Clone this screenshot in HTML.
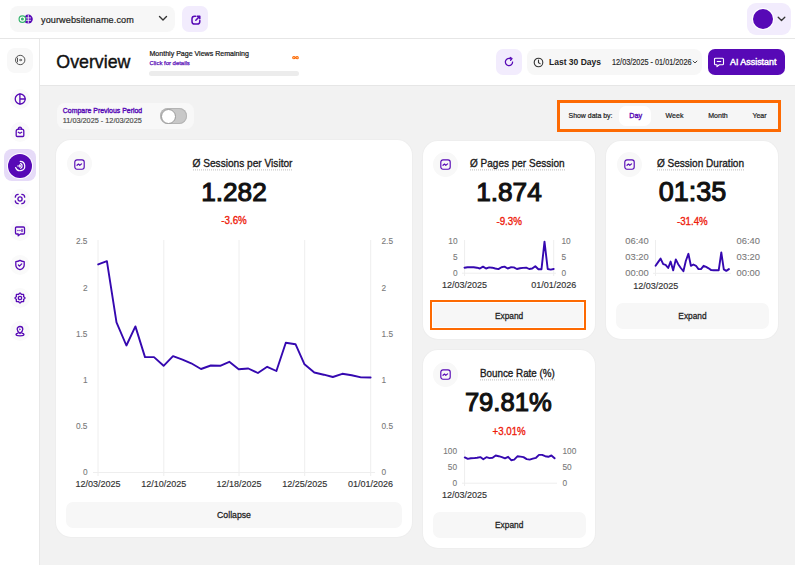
<!DOCTYPE html>
<html><head><meta charset="utf-8"><style>
html,body{margin:0;padding:0;width:795px;height:565px;overflow:hidden;background:#f2f2f2;font-family:"Liberation Sans", sans-serif;}
.t{position:absolute;line-height:20px;white-space:nowrap;font-family:"Liberation Sans", sans-serif;}
.b{position:absolute;}
svg.b{overflow:visible;}
</style></head><body>
<div class="b" style="left:0px;top:0px;width:795px;height:38px;background:#fff;border-radius:0px;"></div>
<div class="b" style="left:0px;top:38px;width:795px;height:1px;background:#e6e6e6;border-radius:0px;"></div>
<div class="b" style="left:10px;top:6px;width:165px;height:26px;background:#f7f7f7;border-radius:8px;"></div>
<svg class="b" style="left:17px;top:13px" width="18" height="12" viewBox="0 0 18 12"><circle cx="11.3" cy="6.1" r="4.5" fill="#5709b6"/><path d="M11.3 1.8v8.6M8.6 4.9h5.4M8.6 7.3h5.4" stroke="#fff" stroke-width="0.8" fill="none"/><circle cx="5.4" cy="6.1" r="3.3" fill="#fff" stroke="#35b46e" stroke-width="1.2"/><circle cx="5.4" cy="6.1" r="1.5" fill="#35b46e"/></svg>
<div class="t" style="left:41.00px;top:10.16px;width:400px;text-align:left;font-size:9.1px;font-weight:400;color:#1e1e1e;-webkit-text-stroke:0.2px #1e1e1e;letter-spacing:0.1px;transform:scaleY(1.06);transform-origin:50% 9.84px;">yourwebsitename.com</div>
<svg class="b" style="left:158px;top:15px" width="10" height="7" viewBox="0 0 10 7"><path d="M1.5 1.5 5 5 8.5 1.5" stroke="#333" stroke-width="1.4" fill="none" stroke-linecap="round" stroke-linejoin="round"/></svg>
<div class="b" style="left:182px;top:6px;width:26px;height:26px;background:#f2ecfd;border-radius:7px;"></div>
<svg class="b" style="left:190.5px;top:14.5px" width="10" height="10" viewBox="0 0 10 10"><path d="M4.6 1.2H3.6A2.6 2.6 0 0 0 1 3.8v2.6A2.6 2.6 0 0 0 3.6 9h2.6A2.6 2.6 0 0 0 8.8 6.4V5.6" stroke="#5709b6" stroke-width="1.5" fill="none" stroke-linecap="round" stroke-linejoin="round"/><path d="M4.8 5.2 8.6 1.4M6.2 1.2h2.6v2.6" stroke="#5709b6" stroke-width="1.5" fill="none" stroke-linecap="round" stroke-linejoin="round"/></svg>
<div class="b" style="left:747px;top:3px;width:44px;height:32px;background:#f2ecfd;border-radius:9px;"></div>
<div class="b" style="left:753px;top:9px;width:20px;height:20px;border-radius:50%;background:#5709b6;box-shadow:0 0 0 1px #fff"></div>
<svg class="b" style="left:777px;top:16px" width="9" height="6" viewBox="0 0 9 6"><path d="M1.2 1.2 4.5 4.5 7.8 1.2" stroke="#333" stroke-width="1.3" fill="none" stroke-linecap="round" stroke-linejoin="round"/></svg>
<div class="b" style="left:0px;top:39px;width:39px;height:526px;background:#fff;border-radius:0px;"></div>
<div class="b" style="left:39px;top:39px;width:1px;height:526px;background:#e8e8e8;border-radius:0px;"></div>
<div class="b" style="left:7px;top:48px;width:26px;height:25px;background:#f8f8f8;border-radius:8px;"></div>
<svg class="b" style="left:14px;top:54.4px" width="12" height="12" viewBox="0 0 12 12"><circle cx="6.2" cy="6" r="4.7" stroke="#555" stroke-width="1" fill="none"/><path d="M3.5 3.7v4.6" stroke="#555" stroke-width="1" fill="none"/><path d="M5 6h2.2" stroke="#555" stroke-width="1"/><path d="M6.6 4.4 8.4 6 6.6 7.6z" fill="#555"/></svg>
<div class="b" style="left:9.5px;top:89px;width:20px;height:20px;border-radius:50%;background:#fafafa"></div>
<div class="b" style="left:9.5px;top:122px;width:20px;height:20px;border-radius:50%;background:#fafafa"></div>
<div class="b" style="left:9.5px;top:189px;width:20px;height:20px;border-radius:50%;background:#fafafa"></div>
<div class="b" style="left:9.5px;top:221px;width:20px;height:20px;border-radius:50%;background:#fafafa"></div>
<div class="b" style="left:9.5px;top:254.5px;width:20px;height:20px;border-radius:50%;background:#fafafa"></div>
<div class="b" style="left:9.5px;top:288px;width:20px;height:20px;border-radius:50%;background:#fafafa"></div>
<div class="b" style="left:9.5px;top:321px;width:20px;height:20px;border-radius:50%;background:#fafafa"></div>
<div class="b" style="left:4px;top:149px;width:32px;height:32px;background:#e6dbf8;border-radius:8px;"></div>
<div class="b" style="left:7.5px;top:153.5px;width:24px;height:24px;border-radius:50%;background:#5709b6;box-shadow:0 0 0 1px #fff"></div>
<svg class="b" style="left:13.5px;top:93px" width="12" height="12" viewBox="0 0 12 12"><circle cx="6.2" cy="6" r="5" stroke="#5709b6" stroke-width="1.3" fill="none" stroke-linecap="round" stroke-linejoin="round"/><path d="M5.9 1V11M5.9 6h5.2" stroke="#5709b6" stroke-width="1.3" fill="none" stroke-linecap="round" stroke-linejoin="round"/></svg>
<svg class="b" style="left:13.5px;top:126px" width="12" height="12" viewBox="0 0 12 12"><path d="M2.2 5.2a2 2 0 0 1 2-2h3.6a2 2 0 0 1 2 2v4.3a1 1 0 0 1-1 1H3.2a1 1 0 0 1-1-1z" stroke="#5709b6" stroke-width="1.3" fill="none" stroke-linecap="round" stroke-linejoin="round"/><path d="M4.5 3.2V2.6a1.5 1.5 0 0 1 3 0v.6M4.3 6.3 6 7.3 7.7 6.3" stroke="#5709b6" stroke-width="1.3" fill="none" stroke-linecap="round" stroke-linejoin="round"/></svg>
<svg class="b" style="left:12.5px;top:158.5px" width="14" height="14" viewBox="0 0 14 14"><path d="M7.2 2.3a4.7 4.7 0 1 1-4.6 6.2" stroke="#fff" stroke-width="1.2" fill="none" stroke-linecap="round"/><path d="M7.6 4.6a2.5 2.5 0 0 1 0 4.6" stroke="#fff" stroke-width="1.2" fill="none" stroke-linecap="round"/><path d="M6.4 6 7.4 7 6.4 8" stroke="#fff" stroke-width="1.1" fill="none" stroke-linecap="round" stroke-linejoin="round"/><path d="M4.6 7h2.4" stroke="#fff" stroke-width="1" fill="none" stroke-linecap="round"/></svg>
<svg class="b" style="left:13.5px;top:193px" width="12" height="12" viewBox="0 0 12 12"><path d="M1.3 4.2A3 3 0 0 1 4.2 1.3M7.8 1.3a3 3 0 0 1 2.9 2.9M10.7 7.8a3 3 0 0 1-2.9 2.9M4.2 10.7a3 3 0 0 1-2.9-2.9" stroke="#5709b6" stroke-width="1.3" fill="none" stroke-linecap="round" stroke-linejoin="round"/><circle cx="6" cy="6" r="2.1" stroke="#5709b6" stroke-width="1.3" fill="none" stroke-linecap="round" stroke-linejoin="round"/></svg>
<svg class="b" style="left:13.5px;top:225px" width="12" height="12" viewBox="0 0 12 12"><path d="M2.5 2h7a1 1 0 0 1 1 1v5a1 1 0 0 1-1 1H6.5L4.2 10.8V9H2.5a1 1 0 0 1-1-1V3a1 1 0 0 1 1-1z" stroke="#5709b6" stroke-width="1.3" fill="none" stroke-linecap="round" stroke-linejoin="round"/><path d="M3.9 5.5h0.1M5.9 5.5h0.1M8 4.5v2" stroke="#5709b6" stroke-width="1.3" fill="none" stroke-linecap="round" stroke-linejoin="round"/></svg>
<svg class="b" style="left:13.5px;top:258.5px" width="12" height="12" viewBox="0 0 12 12"><path d="M6 1.4C7.4 2.3 8.8 2.6 10.2 2.6V5.9C10.2 8.2 8.3 9.9 6 10.7 3.7 9.9 1.8 8.2 1.8 5.9V2.6C3.2 2.6 4.6 2.3 6 1.4z" stroke="#5709b6" stroke-width="1.3" fill="none" stroke-linecap="round" stroke-linejoin="round"/><path d="M4.4 6 5.5 7.1 7.7 4.9" stroke="#5709b6" stroke-width="1.3" fill="none" stroke-linecap="round" stroke-linejoin="round"/></svg>
<svg class="b" style="left:13.5px;top:292px" width="12" height="12" viewBox="0 0 12 12"><path d="M10.95 6.00 L10.92 6.19 L10.83 6.38 L10.69 6.56 L10.51 6.71 L10.32 6.86 L10.11 6.99 L9.92 7.11 L9.76 7.22 L9.64 7.34 L9.56 7.47 L9.52 7.62 L9.52 7.80 L9.56 7.99 L9.61 8.21 L9.66 8.44 L9.70 8.69 L9.71 8.92 L9.68 9.15 L9.62 9.34 L9.50 9.50 L9.34 9.62 L9.15 9.68 L8.92 9.71 L8.69 9.70 L8.44 9.66 L8.21 9.61 L7.99 9.56 L7.80 9.52 L7.62 9.52 L7.47 9.56 L7.34 9.64 L7.22 9.76 L7.11 9.92 L6.99 10.11 L6.86 10.32 L6.71 10.51 L6.56 10.69 L6.38 10.83 L6.19 10.92 L6.00 10.95 L5.81 10.92 L5.62 10.83 L5.44 10.69 L5.29 10.51 L5.14 10.32 L5.01 10.11 L4.89 9.92 L4.78 9.76 L4.66 9.64 L4.53 9.56 L4.38 9.52 L4.20 9.52 L4.01 9.56 L3.79 9.61 L3.56 9.66 L3.31 9.70 L3.08 9.71 L2.85 9.68 L2.66 9.62 L2.50 9.50 L2.38 9.34 L2.32 9.15 L2.29 8.92 L2.30 8.69 L2.34 8.44 L2.39 8.21 L2.44 7.99 L2.48 7.80 L2.48 7.62 L2.44 7.47 L2.36 7.34 L2.24 7.22 L2.08 7.11 L1.89 6.99 L1.68 6.86 L1.49 6.71 L1.31 6.56 L1.17 6.38 L1.08 6.19 L1.05 6.00 L1.08 5.81 L1.17 5.62 L1.31 5.44 L1.49 5.29 L1.68 5.14 L1.89 5.01 L2.08 4.89 L2.24 4.78 L2.36 4.66 L2.44 4.53 L2.48 4.38 L2.48 4.20 L2.44 4.01 L2.39 3.79 L2.34 3.56 L2.30 3.31 L2.29 3.08 L2.32 2.85 L2.38 2.66 L2.50 2.50 L2.66 2.38 L2.85 2.32 L3.08 2.29 L3.31 2.30 L3.56 2.34 L3.79 2.39 L4.01 2.44 L4.20 2.48 L4.38 2.48 L4.53 2.44 L4.66 2.36 L4.78 2.24 L4.89 2.08 L5.01 1.89 L5.14 1.68 L5.29 1.49 L5.44 1.31 L5.62 1.17 L5.81 1.08 L6.00 1.05 L6.19 1.08 L6.38 1.17 L6.56 1.31 L6.71 1.49 L6.86 1.68 L6.99 1.89 L7.11 2.08 L7.22 2.24 L7.34 2.36 L7.47 2.44 L7.62 2.48 L7.80 2.48 L7.99 2.44 L8.21 2.39 L8.44 2.34 L8.69 2.30 L8.92 2.29 L9.15 2.32 L9.34 2.38 L9.50 2.50 L9.62 2.66 L9.68 2.85 L9.71 3.08 L9.70 3.31 L9.66 3.56 L9.61 3.79 L9.56 4.01 L9.52 4.20 L9.52 4.38 L9.56 4.53 L9.64 4.66 L9.76 4.78 L9.92 4.89 L10.11 5.01 L10.32 5.14 L10.51 5.29 L10.69 5.44 L10.83 5.62 L10.92 5.81 L10.95 6.00z" stroke="#5709b6" stroke-width="1.3" fill="none" stroke-linecap="round" stroke-linejoin="round"/><circle cx="6" cy="6" r="1.7" stroke="#5709b6" stroke-width="1.3" fill="none" stroke-linecap="round" stroke-linejoin="round"/></svg>
<svg class="b" style="left:13.5px;top:325px" width="12" height="12" viewBox="0 0 12 12"><path d="M6 8.6C4.4 7.3 3.2 5.9 3.2 4.3A2.8 2.8 0 0 1 8.8 4.3C8.8 5.9 7.6 7.3 6 8.6z" stroke="#5709b6" stroke-width="1.3" fill="none" stroke-linecap="round" stroke-linejoin="round"/><path d="M5.3 3.2 7 4.3 5.3 5.4z" fill="#5709b6" stroke="none"/><path d="M4 8.2C2.8 8.5 2 9 2 9.6c0 .7 1.8 1.2 4 1.2s4-.5 4-1.2c0-.6-.8-1.1-2-1.4" stroke="#5709b6" stroke-width="1.3" fill="none" stroke-linecap="round" stroke-linejoin="round"/></svg>
<div class="b" style="left:40px;top:39px;width:755px;height:46px;background:#fff;border-radius:0px;"></div>
<div class="b" style="left:40px;top:85px;width:755px;height:1px;background:#e6e6e6;border-radius:0px;"></div>
<div class="t" style="left:56.30px;top:51.92px;width:400px;text-align:left;font-size:17.8px;font-weight:400;color:#111;-webkit-text-stroke:0.4px #111;">Overview</div>
<div class="t" style="left:149.50px;top:43.63px;width:400px;text-align:left;font-size:7.05px;font-weight:400;color:#1a1a1a;-webkit-text-stroke:0.22px #1a1a1a;transform:scaleY(1.08);transform-origin:50% 9.87px;">Monthly Page Views Remaining</div>
<div class="t" style="left:149.50px;top:52.61px;width:400px;text-align:left;font-size:5.95px;font-weight:400;color:#5709b6;-webkit-text-stroke:0.25px #5709b6;">Click for details</div>
<div class="b" style="left:149px;top:71px;width:150px;height:5px;background:#ececec;border-radius:3px;"></div>
<svg class="b" style="left:292px;top:56.3px" width="7" height="3.4" viewBox="0 0 7 3.4"><path d="M3.5 1.7C2.8.8 2.3.6 1.8.6a1.1 1.1 0 0 0 0 2.2c.5 0 1-.2 1.7-1.1.7-.9 1.2-1.1 1.7-1.1a1.1 1.1 0 0 1 0 2.2c-.5 0-1-.2-1.7-1.1z" stroke="#fd6a03" stroke-width="1.1" fill="none"/></svg>
<div class="b" style="left:496px;top:49px;width:26px;height:26px;background:#f2ecfd;border-radius:7px;"></div>
<svg class="b" style="left:503px;top:56px" width="12" height="12" viewBox="0 0 12 12"><path d="M9.6 6A3.6 3.6 0 1 1 7.8 2.9" stroke="#5709b6" stroke-width="1.25" fill="none" stroke-linecap="round"/><path d="M7.2 1.4 9 2.6 7.6 4.3" stroke="#5709b6" stroke-width="1.25" fill="none" stroke-linecap="round" stroke-linejoin="round"/></svg>
<div class="b" style="left:527px;top:49px;width:175px;height:26px;background:#f7f7f7;border-radius:8px;"></div>
<svg class="b" style="left:533px;top:57px" width="11" height="11" viewBox="0 0 11 11"><circle cx="5.5" cy="5.5" r="4.3" stroke="#333" stroke-width="1.1" fill="none"/><path d="M5.5 3v2.6l1.6 1" stroke="#333" stroke-width="1.1" fill="none" stroke-linecap="round"/></svg>
<div class="t" style="left:549.00px;top:52.35px;width:400px;text-align:left;font-size:8.5px;font-weight:700;color:#222;">Last 30 Days</div>
<div class="t" style="left:612.00px;top:52.63px;width:400px;text-align:left;font-size:7.3px;font-weight:400;color:#2a2a2a;-webkit-text-stroke:0.15px #2a2a2a;transform:scaleY(1.12);transform-origin:50% 9.87px;">12/03/2025 - 01/01/2026</div>
<svg class="b" style="left:692px;top:60px" width="6" height="4" viewBox="0 0 6 4"><path d="M.8.8 3 3 5.2.8" stroke="#333" stroke-width="0.9" fill="none"/></svg>
<div class="b" style="left:708px;top:49px;width:77px;height:26px;background:#5709b6;border-radius:7px;"></div>
<svg class="b" style="left:713px;top:56px" width="12" height="12" viewBox="0 0 12 12"><path d="M2.5 2.2h7a1 1 0 0 1 1 1v4.6a1 1 0 0 1-1 1H6.3L4 10.6V8.8H2.5a1 1 0 0 1-1-1V3.2a1 1 0 0 1 1-1z" stroke="#fff" stroke-width="1.1" fill="none" stroke-linejoin="round"/><path d="M3.8 5.5h4.4" stroke="#fff" stroke-width="1.1"/></svg>
<div class="t" style="left:730.00px;top:52.36px;width:400px;text-align:left;font-size:8.9px;font-weight:400;color:#fff;-webkit-text-stroke:0.45px #fff;">AI Assistant</div>
<div class="b" style="left:40px;top:86px;width:755px;height:479px;background:#f2f2f2;border-radius:0px;"></div>
<div class="b" style="left:56.5px;top:103px;width:137.0px;height:26px;background:#f8f8f8;border-radius:8px;"></div>
<div class="t" style="left:62.80px;top:101.03px;width:400px;text-align:left;font-size:6.95px;font-weight:400;color:#5709b6;-webkit-text-stroke:0.35px #5709b6;transform:scaleY(1.12);transform-origin:50% 9.87px;">Compare Previous Period</div>
<div class="t" style="left:62.80px;top:111.03px;width:400px;text-align:left;font-size:7.3px;font-weight:400;color:#4a4a4a;-webkit-text-stroke:0.15px #4a4a4a;transform:scaleY(1.1);transform-origin:50% 9.87px;">11/03/2025 - 12/03/2025</div>
<div class="b" style="left:160px;top:108px;width:27px;height:16px;background:#c8c8c8;border-radius:8px;box-shadow:inset 0 0 0 1px #b4b4b4;"></div>
<div class="b" style="left:160.5px;top:108.5px;width:13px;height:13px;border-radius:50%;background:#fff;border:1px solid #9a9a9a;box-sizing:content-box"></div>
<div class="b" style="left:557px;top:100px;width:218px;height:25.8px;border:3px solid #fd6a03;box-sizing:content-box;background:#f6f6f6"></div>
<div class="b" style="left:619px;top:106px;width:32px;height:20px;background:#fff;border-radius:7px;"></div>
<div class="t" style="left:568.50px;top:105.53px;width:400px;text-align:left;font-size:6.95px;font-weight:400;color:#222;-webkit-text-stroke:0.2px #222;transform:scaleY(1.1);transform-origin:50% 9.87px;">Show data by:</div>
<div class="t" style="left:615.70px;top:105.53px;width:40px;text-align:center;font-size:7.2px;font-weight:400;color:#5709b6;-webkit-text-stroke:0.35px #5709b6;transform:scaleY(1.1);transform-origin:50% 9.87px;">Day</div>
<div class="t" style="left:654.50px;top:105.53px;width:40px;text-align:center;font-size:7.05px;font-weight:400;color:#222;-webkit-text-stroke:0.2px #222;transform:scaleY(1.1);transform-origin:50% 9.87px;">Week</div>
<div class="t" style="left:698.00px;top:105.53px;width:40px;text-align:center;font-size:7.05px;font-weight:400;color:#222;-webkit-text-stroke:0.2px #222;transform:scaleY(1.1);transform-origin:50% 9.87px;">Month</div>
<div class="t" style="left:739.50px;top:105.53px;width:40px;text-align:center;font-size:7.05px;font-weight:400;color:#222;-webkit-text-stroke:0.2px #222;transform:scaleY(1.1);transform-origin:50% 9.87px;">Year</div>
<div class="b" style="left:56px;top:140px;width:356px;height:397px;background:#fff;border-radius:15px;box-shadow:0 0 0 1px #eeeeee"></div>
<div class="b" style="left:67.1px;top:151.2px;width:25px;height:25px;border-radius:50%;background:#f8f8f8"></div>
<svg class="b" style="left:74.1px;top:158.7px" width="11" height="11" viewBox="0 0 11 11"><rect x="0.8" y="0.8" width="9.4" height="9.4" rx="2.2" stroke="#5709b6" stroke-width="1.15" fill="none"/><path d="M3 6.3 4.5 5 5.8 6.3 7.6 4.9" stroke="#5709b6" stroke-width="1.15" fill="none" stroke-linecap="round" stroke-linejoin="round"/></svg>
<div class="t" style="left:172.5px;top:154.28270000000003px;width:140px;text-align:center;font-size:10.15px;color:#1a1a1a;-webkit-text-stroke:0.3px #1a1a1a"><span style="display:inline-block;transform:scaleY(1.12);transform-origin:50% 60%"><span style="border-bottom:1px dotted #cacaca;padding-bottom:0px">Ø Sessions per Visitor</span></span></div>
<div class="t" style="left:134.00px;top:182.17px;width:200px;text-align:center;font-size:26.2px;font-weight:400;color:#111;-webkit-text-stroke:1.1px #111;">1.282</div>
<div class="t" style="left:184.00px;top:210.48px;width:100px;text-align:center;font-size:9.8px;font-weight:400;color:#ee1c0c;-webkit-text-stroke:0.3px #ee1c0c;transform:scaleY(1.2);transform-origin:50% 9.82px;">-3.6%</div>
<svg class="b" style="left:0;top:0" width="795" height="565"><line x1="98" y1="240" x2="98" y2="476" stroke="#eeeeee" stroke-width="1"/><line x1="163.8" y1="240" x2="163.8" y2="476" stroke="#eeeeee" stroke-width="1"/><line x1="239" y1="240" x2="239" y2="476" stroke="#eeeeee" stroke-width="1"/><line x1="304.7" y1="240" x2="304.7" y2="476" stroke="#eeeeee" stroke-width="1"/><line x1="370.7" y1="240" x2="370.7" y2="476" stroke="#eeeeee" stroke-width="1"/><line x1="93" y1="472.5" x2="375" y2="472.5" stroke="#eeeeee" stroke-width="1"/><polyline points="98.2,264.4 106.9,261.2 116.5,322.4 126.4,345.5 135.4,326.4 145.0,357.1 154.0,357.1 163.6,365.8 173.0,356.1 182.5,359.6 191.2,363.3 201.0,369.0 210.8,365.5 220.2,365.8 229.3,361.8 238.7,369.2 248.3,368.5 257.9,373.0 267.2,366.8 276.4,371.0 285.8,342.8 295.5,344.2 304.5,364.3 314.3,372.5 323.8,374.7 332.8,377.0 342.3,373.8 351.7,375.3 361.0,377.4 370.6,377.5" fill="none" stroke="#3508b0" stroke-width="1.9" stroke-linejoin="round" stroke-linecap="round"/></svg>
<div class="t" style="left:47.50px;top:231.45px;width:40px;text-align:right;font-size:8.3px;font-weight:400;color:#7a7a7a;-webkit-text-stroke:0.1px #7a7a7a;">2.5</div>
<div class="t" style="left:381.50px;top:231.45px;width:40px;text-align:left;font-size:8.3px;font-weight:400;color:#7a7a7a;-webkit-text-stroke:0.1px #7a7a7a;">2.5</div>
<div class="t" style="left:47.50px;top:277.59px;width:40px;text-align:right;font-size:8.3px;font-weight:400;color:#7a7a7a;-webkit-text-stroke:0.1px #7a7a7a;">2</div>
<div class="t" style="left:381.50px;top:277.59px;width:40px;text-align:left;font-size:8.3px;font-weight:400;color:#7a7a7a;-webkit-text-stroke:0.1px #7a7a7a;">2</div>
<div class="t" style="left:47.50px;top:323.73px;width:40px;text-align:right;font-size:8.3px;font-weight:400;color:#7a7a7a;-webkit-text-stroke:0.1px #7a7a7a;">1.5</div>
<div class="t" style="left:381.50px;top:323.73px;width:40px;text-align:left;font-size:8.3px;font-weight:400;color:#7a7a7a;-webkit-text-stroke:0.1px #7a7a7a;">1.5</div>
<div class="t" style="left:47.50px;top:369.87px;width:40px;text-align:right;font-size:8.3px;font-weight:400;color:#7a7a7a;-webkit-text-stroke:0.1px #7a7a7a;">1</div>
<div class="t" style="left:381.50px;top:369.87px;width:40px;text-align:left;font-size:8.3px;font-weight:400;color:#7a7a7a;-webkit-text-stroke:0.1px #7a7a7a;">1</div>
<div class="t" style="left:47.50px;top:416.01px;width:40px;text-align:right;font-size:8.3px;font-weight:400;color:#7a7a7a;-webkit-text-stroke:0.1px #7a7a7a;">0.5</div>
<div class="t" style="left:381.50px;top:416.01px;width:40px;text-align:left;font-size:8.3px;font-weight:400;color:#7a7a7a;-webkit-text-stroke:0.1px #7a7a7a;">0.5</div>
<div class="t" style="left:47.50px;top:462.15px;width:40px;text-align:right;font-size:8.3px;font-weight:400;color:#7a7a7a;-webkit-text-stroke:0.1px #7a7a7a;">0</div>
<div class="t" style="left:381.50px;top:462.15px;width:40px;text-align:left;font-size:8.3px;font-weight:400;color:#7a7a7a;-webkit-text-stroke:0.1px #7a7a7a;">0</div>
<div class="t" style="left:58.00px;top:474.16px;width:80px;text-align:center;font-size:9.0px;font-weight:400;color:#333;-webkit-text-stroke:0.15px #333;">12/03/2025</div>
<div class="t" style="left:123.80px;top:474.16px;width:80px;text-align:center;font-size:9.0px;font-weight:400;color:#333;-webkit-text-stroke:0.15px #333;">12/10/2025</div>
<div class="t" style="left:199.00px;top:474.16px;width:80px;text-align:center;font-size:9.0px;font-weight:400;color:#333;-webkit-text-stroke:0.15px #333;">12/18/2025</div>
<div class="t" style="left:264.70px;top:474.16px;width:80px;text-align:center;font-size:9.0px;font-weight:400;color:#333;-webkit-text-stroke:0.15px #333;">12/25/2025</div>
<div class="t" style="left:330.50px;top:474.16px;width:80px;text-align:center;font-size:9.0px;font-weight:400;color:#333;-webkit-text-stroke:0.15px #333;">01/01/2026</div>
<div class="b" style="left:66px;top:501.5px;width:336px;height:26.0px;background:#f7f7f7;border-radius:7px;"></div>
<div class="t" style="left:184.00px;top:504.66px;width:100px;text-align:center;font-size:8.7px;font-weight:400;color:#222;-webkit-text-stroke:0.25px #222;transform:scaleY(1.1);transform-origin:50% 9.84px;">Collapse</div>
<div class="b" style="left:422.8px;top:140.5px;width:172.2px;height:198.0px;background:#fff;border-radius:15px;box-shadow:0 0 0 1px #eeeeee"></div>
<div class="b" style="left:433.1px;top:151.7px;width:25px;height:25px;border-radius:50%;background:#f8f8f8"></div>
<svg class="b" style="left:440.1px;top:159.2px" width="11" height="11" viewBox="0 0 11 11"><rect x="0.8" y="0.8" width="9.4" height="9.4" rx="2.2" stroke="#5709b6" stroke-width="1.15" fill="none"/><path d="M3 6.3 4.5 5 5.8 6.3 7.6 4.9" stroke="#5709b6" stroke-width="1.15" fill="none" stroke-linecap="round" stroke-linejoin="round"/></svg>
<div class="t" style="left:449.99999999999994px;top:154.18px;width:134.6px;text-align:center;font-size:10.0px;color:#1a1a1a;-webkit-text-stroke:0.3px #1a1a1a"><span style="display:inline-block;transform:scaleY(1.12);transform-origin:50% 60%"><span style="border-bottom:1px dotted #cacaca;padding-bottom:0px">Ø Pages per Session</span></span></div>
<div class="t" style="left:409.00px;top:182.47px;width:200px;text-align:center;font-size:26.2px;font-weight:400;color:#111;-webkit-text-stroke:1.1px #111;">1.874</div>
<div class="t" style="left:459.20px;top:210.68px;width:100px;text-align:center;font-size:9.8px;font-weight:400;color:#ee1c0c;-webkit-text-stroke:0.3px #ee1c0c;transform:scaleY(1.2);transform-origin:50% 9.82px;">-9.3%</div>
<svg class="b" style="left:0;top:0" width="795" height="565"><line x1="464.6" y1="240" x2="464.6" y2="276" stroke="#eeeeee"/><line x1="553.7" y1="240" x2="553.7" y2="276" stroke="#eeeeee"/><line x1="462" y1="273.2" x2="556" y2="273.2" stroke="#eeeeee"/><polyline points="464.5,267.7 467.5,267.2 470.7,267.1 473.7,267.2 476.9,267.7 479.9,268.5 483.0,266.6 486.0,268.5 489.2,267.4 492.2,267.7 495.3,268.5 498.4,269.1 501.5,267.2 504.5,266.6 507.7,268.5 510.7,267.3 513.8,267.4 516.9,269.0 520.0,268.3 523.0,267.9 526.2,267.7 529.2,269.0 532.2,268.5 535.3,266.2 538.4,269.2 541.5,269.2 544.5,241.7 547.7,269.0 550.7,269.6 553.7,269.0" fill="none" stroke="#3508b0" stroke-width="1.9" stroke-linejoin="round" stroke-linecap="round"/></svg>
<div class="t" style="left:417.50px;top:231.15px;width:40px;text-align:right;font-size:8.3px;font-weight:400;color:#7a7a7a;-webkit-text-stroke:0.1px #7a7a7a;">10</div>
<div class="t" style="left:561.50px;top:231.15px;width:40px;text-align:left;font-size:8.3px;font-weight:400;color:#7a7a7a;-webkit-text-stroke:0.1px #7a7a7a;">10</div>
<div class="t" style="left:417.50px;top:247.25px;width:40px;text-align:right;font-size:8.3px;font-weight:400;color:#7a7a7a;-webkit-text-stroke:0.1px #7a7a7a;">5</div>
<div class="t" style="left:561.50px;top:247.25px;width:40px;text-align:left;font-size:8.3px;font-weight:400;color:#7a7a7a;-webkit-text-stroke:0.1px #7a7a7a;">5</div>
<div class="t" style="left:417.50px;top:263.15px;width:40px;text-align:right;font-size:8.3px;font-weight:400;color:#7a7a7a;-webkit-text-stroke:0.1px #7a7a7a;">0</div>
<div class="t" style="left:561.50px;top:263.15px;width:40px;text-align:left;font-size:8.3px;font-weight:400;color:#7a7a7a;-webkit-text-stroke:0.1px #7a7a7a;">0</div>
<div class="t" style="left:424.50px;top:275.46px;width:80px;text-align:center;font-size:9.0px;font-weight:400;color:#333;-webkit-text-stroke:0.15px #333;">12/03/2025</div>
<div class="t" style="left:513.70px;top:275.46px;width:80px;text-align:center;font-size:9.0px;font-weight:400;color:#333;-webkit-text-stroke:0.15px #333;">01/01/2026</div>
<div class="b" style="left:433px;top:303px;width:152px;height:26px;background:#f7f7f7;border-radius:0px;"></div>
<div class="b" style="left:430.2px;top:300.2px;width:151.6px;height:25.8px;border:2.8px solid #fd6a03;box-sizing:content-box;box-shadow:inset 0 0 0 1px #fff"></div>
<div class="t" style="left:459.10px;top:305.75px;width:100px;text-align:center;font-size:8.35px;font-weight:400;color:#222;-webkit-text-stroke:0.25px #222;transform:scaleY(1.1);transform-origin:50% 9.85px;">Expand</div>
<div class="b" style="left:606.3px;top:140.5px;width:172.20000000000005px;height:198.0px;background:#fff;border-radius:15px;box-shadow:0 0 0 1px #eeeeee"></div>
<div class="b" style="left:616.5px;top:151.7px;width:25px;height:25px;border-radius:50%;background:#f8f8f8"></div>
<svg class="b" style="left:623.5px;top:159.2px" width="11" height="11" viewBox="0 0 11 11"><rect x="0.8" y="0.8" width="9.4" height="9.4" rx="2.2" stroke="#5709b6" stroke-width="1.15" fill="none"/><path d="M3 6.3 4.5 5 5.8 6.3 7.6 4.9" stroke="#5709b6" stroke-width="1.15" fill="none" stroke-linecap="round" stroke-linejoin="round"/></svg>
<div class="t" style="left:636.85px;top:154.1809px;width:127.3px;text-align:center;font-size:10.05px;color:#1a1a1a;-webkit-text-stroke:0.3px #1a1a1a"><span style="display:inline-block;transform:scaleY(1.12);transform-origin:50% 60%"><span style="border-bottom:1px dotted #cacaca;padding-bottom:0px">Ø Session Duration</span></span></div>
<div class="t" style="left:592.50px;top:182.49px;width:200px;text-align:center;font-size:27px;font-weight:400;color:#111;-webkit-text-stroke:1.1px #111;">01:35</div>
<div class="t" style="left:642.30px;top:210.67px;width:100px;text-align:center;font-size:9.7px;font-weight:400;color:#ee1c0c;-webkit-text-stroke:0.3px #ee1c0c;transform:scaleY(1.2);transform-origin:50% 9.83px;">-31.4%</div>
<svg class="b" style="left:0;top:0" width="795" height="565"><line x1="655.5" y1="240" x2="655.5" y2="276" stroke="#eeeeee"/><line x1="653" y1="273.3" x2="731" y2="273.3" stroke="#eeeeee"/><polyline points="655.6,265.8 658.1,262.1 660.6,258.6 663.2,264.2 665.6,264.8 668.2,268.0 670.6,261.6 673.2,270.4 675.8,259.4 678.2,264.2 680.8,268.0 683.4,271.2 685.8,261.0 688.4,253.8 690.9,265.8 693.4,264.5 696.0,265.8 698.5,269.1 701.0,269.1 703.6,265.8 706.1,266.9 708.6,268.3 711.2,270.1 713.7,270.3 716.2,270.3 718.7,270.3 721.3,252.5 723.8,269.4 726.3,270.9 728.9,269.1" fill="none" stroke="#3508b0" stroke-width="1.9" stroke-linejoin="round" stroke-linecap="round"/></svg>
<div class="t" style="left:608.80px;top:230.87px;width:40px;text-align:right;font-size:9.4px;font-weight:400;color:#7a7a7a;-webkit-text-stroke:0.1px #7a7a7a;">06:40</div>
<div class="t" style="left:736.50px;top:230.87px;width:40px;text-align:left;font-size:9.4px;font-weight:400;color:#7a7a7a;-webkit-text-stroke:0.1px #7a7a7a;">06:40</div>
<div class="t" style="left:608.80px;top:247.37px;width:40px;text-align:right;font-size:9.4px;font-weight:400;color:#7a7a7a;-webkit-text-stroke:0.1px #7a7a7a;">03:20</div>
<div class="t" style="left:736.50px;top:247.37px;width:40px;text-align:left;font-size:9.4px;font-weight:400;color:#7a7a7a;-webkit-text-stroke:0.1px #7a7a7a;">03:20</div>
<div class="t" style="left:608.80px;top:263.37px;width:40px;text-align:right;font-size:9.4px;font-weight:400;color:#7a7a7a;-webkit-text-stroke:0.1px #7a7a7a;">00:00</div>
<div class="t" style="left:736.50px;top:263.37px;width:40px;text-align:left;font-size:9.4px;font-weight:400;color:#7a7a7a;-webkit-text-stroke:0.1px #7a7a7a;">00:00</div>
<div class="t" style="left:615.70px;top:275.76px;width:80px;text-align:center;font-size:9.0px;font-weight:400;color:#333;-webkit-text-stroke:0.15px #333;">12/03/2025</div>
<div class="b" style="left:616px;top:302.5px;width:152.5px;height:26.5px;background:#f7f7f7;border-radius:7px;"></div>
<div class="t" style="left:642.50px;top:305.65px;width:100px;text-align:center;font-size:8.35px;font-weight:400;color:#222;-webkit-text-stroke:0.25px #222;transform:scaleY(1.1);transform-origin:50% 9.85px;">Expand</div>
<div class="b" style="left:422.8px;top:350px;width:172.2px;height:198px;background:#fff;border-radius:15px;box-shadow:0 0 0 1px #eeeeee"></div>
<div class="b" style="left:433.1px;top:361.5px;width:25px;height:25px;border-radius:50%;background:#f8f8f8"></div>
<svg class="b" style="left:440.1px;top:369px" width="11" height="11" viewBox="0 0 11 11"><rect x="0.8" y="0.8" width="9.4" height="9.4" rx="2.2" stroke="#5709b6" stroke-width="1.15" fill="none"/><path d="M3 6.3 4.5 5 5.8 6.3 7.6 4.9" stroke="#5709b6" stroke-width="1.15" fill="none" stroke-linecap="round" stroke-linejoin="round"/></svg>
<div class="t" style="left:459.9px;top:364.1773px;width:115px;text-align:center;font-size:9.85px;color:#1a1a1a;-webkit-text-stroke:0.3px #1a1a1a"><span style="display:inline-block;transform:scaleY(1.12);transform-origin:50% 60%"><span style="border-bottom:1px dotted #cacaca;padding-bottom:0px">Bounce Rate (%)</span></span></div>
<div class="t" style="left:408.30px;top:392.46px;width:200px;text-align:center;font-size:25.6px;font-weight:400;color:#111;-webkit-text-stroke:1.1px #111;">79.81%</div>
<div class="t" style="left:459.20px;top:420.67px;width:100px;text-align:center;font-size:9.7px;font-weight:400;color:#ee1c0c;-webkit-text-stroke:0.3px #ee1c0c;transform:scaleY(1.2);transform-origin:50% 9.83px;">+3.01%</div>
<svg class="b" style="left:0;top:0" width="795" height="565"><line x1="464.6" y1="450" x2="464.6" y2="486" stroke="#eeeeee"/><line x1="462" y1="483.2" x2="557" y2="483.2" stroke="#eeeeee"/><polyline points="464.8,457.4 467.8,458.9 470.9,458.3 474.1,458.1 477.1,457.8 480.3,457.1 483.3,459.3 486.4,457.2 489.6,458.1 492.6,457.8 495.7,455.5 498.7,456.2 501.9,457.1 505.0,458.3 508.1,456.8 511.2,460.2 514.2,459.6 517.4,456.3 520.5,456.6 523.5,457.1 526.7,459.1 529.7,459.6 532.8,458.7 536.0,457.8 539.0,454.9 542.1,454.9 545.2,456.2 548.3,456.8 551.4,455.5 554.6,458.3" fill="none" stroke="#3508b0" stroke-width="1.9" stroke-linejoin="round" stroke-linecap="round"/></svg>
<div class="t" style="left:417.00px;top:440.85px;width:40px;text-align:right;font-size:8.3px;font-weight:400;color:#7a7a7a;-webkit-text-stroke:0.1px #7a7a7a;">100</div>
<div class="t" style="left:562.50px;top:440.85px;width:40px;text-align:left;font-size:8.3px;font-weight:400;color:#7a7a7a;-webkit-text-stroke:0.1px #7a7a7a;">100</div>
<div class="t" style="left:417.00px;top:456.95px;width:40px;text-align:right;font-size:8.3px;font-weight:400;color:#7a7a7a;-webkit-text-stroke:0.1px #7a7a7a;">50</div>
<div class="t" style="left:562.50px;top:456.95px;width:40px;text-align:left;font-size:8.3px;font-weight:400;color:#7a7a7a;-webkit-text-stroke:0.1px #7a7a7a;">50</div>
<div class="t" style="left:417.00px;top:473.05px;width:40px;text-align:right;font-size:8.3px;font-weight:400;color:#7a7a7a;-webkit-text-stroke:0.1px #7a7a7a;">0</div>
<div class="t" style="left:562.50px;top:473.05px;width:40px;text-align:left;font-size:8.3px;font-weight:400;color:#7a7a7a;-webkit-text-stroke:0.1px #7a7a7a;">0</div>
<div class="t" style="left:424.50px;top:485.16px;width:80px;text-align:center;font-size:9.0px;font-weight:400;color:#333;-webkit-text-stroke:0.15px #333;">12/03/2025</div>
<div class="b" style="left:433px;top:512.3px;width:152.5px;height:25.700000000000045px;background:#f7f7f7;border-radius:7px;"></div>
<div class="t" style="left:459.20px;top:515.15px;width:100px;text-align:center;font-size:8.35px;font-weight:400;color:#222;-webkit-text-stroke:0.25px #222;transform:scaleY(1.1);transform-origin:50% 9.85px;">Expand</div>
</body></html>
